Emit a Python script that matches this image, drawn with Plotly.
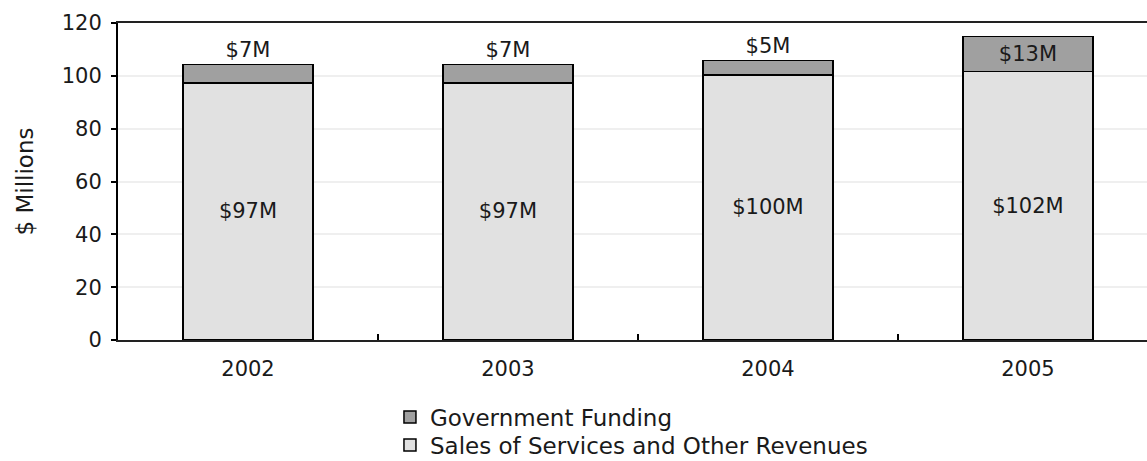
import plotly.graph_objects as go

years = ["2002", "2003", "2004", "2005"]
sales = [97.3, 97.3, 100.4, 101.6]
government = [6.9, 6.9, 5.4, 13.3]
gov_text_pos = ["outside", "outside", "outside", "inside"]

FONT = "DejaVu Sans"
FS = 21
LEG_FS = 23
TEXT = "#1a1a1a"

fig = go.Figure()
fig.add_trace(go.Bar(
    name="Sales of Services and Other Revenues",
    x=years, y=sales, legend="legend2",
    marker=dict(color="#e1e1e1", line=dict(color="black", width=1.5)),
    texttemplate="$%{y:.0f}M", textposition="inside", insidetextanchor="middle",
    textfont=dict(color=TEXT, size=FS, family=FONT),
    constraintext="none", width=0.5,
))
fig.add_trace(go.Bar(
    name="Government Funding",
    x=years, y=government, legend="legend",
    marker=dict(color="#a0a0a0", line=dict(color="black", width=1.5)),
    texttemplate="$%{y:.0f}M", textposition=gov_text_pos, insidetextanchor="middle",
    textfont=dict(color=TEXT, size=FS, family=FONT),
    constraintext="none", cliponaxis=False, width=0.5,
))

legend_common = dict(
    orientation="v", xanchor="left", yanchor="middle",
    font=dict(size=LEG_FS, family=FONT, color=TEXT),
    bgcolor="rgba(0,0,0,0)",
)

fig.update_layout(
    width=1147, height=461,
    barmode="stack",
    plot_bgcolor="white", paper_bgcolor="white",
    margin=dict(l=118, r=0, t=23, b=121, autoexpand=False),
    font=dict(family=FONT, size=FS, color=TEXT),
    showlegend=True,
    legend=dict(x=0.2643, y=-0.2429, **legend_common),
    legend2=dict(x=0.2643, y=-0.3312, **legend_common),
    xaxis=dict(
        type="category", range=[-0.5, 3.458],
        showline=True, linecolor="#222222", linewidth=2, mirror=True,
        ticks="inside", tickson="boundaries", ticklen=6, tickwidth=1.5, tickcolor="black",
        ticklabelstandoff=9,
        showgrid=False, zeroline=False,
    ),
    yaxis=dict(
        range=[0, 120], dtick=20,
        showline=True, linecolor="black", linewidth=2,
        ticks="outside", ticklen=5, tickwidth=1.5, tickcolor="black",
        ticklabelstandoff=5,
        showgrid=True, gridcolor="#efefef", gridwidth=2, zeroline=False,
        title=dict(text="$ Millions", standoff=22, font=dict(size=23, family=FONT)),
    ),
)

fig.write_html("out.html")
